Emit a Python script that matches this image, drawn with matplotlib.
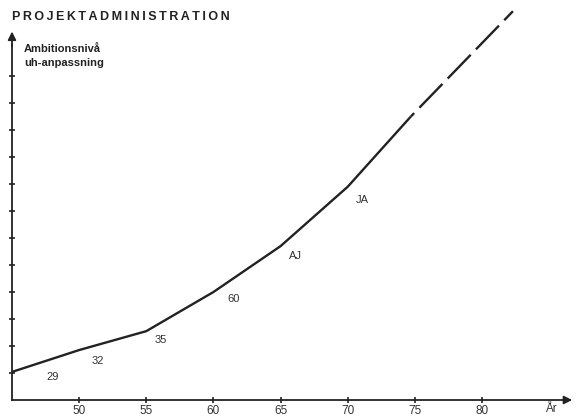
import matplotlib
matplotlib.use("Agg")
import matplotlib.pyplot as plt

plt.rcParams["font.family"] = ["Liberation Sans", "DejaVu Sans"]

# solid part of the curve (year, ambition level)
years_solid = [45, 50, 55, 60, 65, 70, 74.7]
level_solid = [1.04, 1.85, 2.55, 4.0, 5.7, 7.9, 10.5]

# dashed extrapolation
years_dash = [74.7, 82.3]
level_dash = [10.5, 14.4]

# labels along the curve
label_text = ["29", "32", "35", "60", "AJ", "JA"]
label_x = [48.0, 51.4, 56.1, 61.5, 66.1, 71.1]
label_y = [0.85, 1.44, 2.22, 3.74, 5.33, 7.4]

xticks = [50, 55, 60, 65, 70, 75, 80]
yticks = list(range(1, 13))

ink = "#222222"

fig = plt.figure(figsize=(5.76, 4.16), dpi=100)
ax = fig.add_axes([12 / 576, 16 / 416, 564 / 576, 400 / 416])
ax.set_xlim(45, 45 + 564 / 13.43)
ax.set_ylim(0, 400 / 27)

ax.plot(years_solid, level_solid, color=ink, lw=1.7, solid_capstyle="butt")
ax.plot(years_dash, level_dash, color=ink, lw=1.7, linestyle=(12, (14, 3.2)),
        dash_capstyle="butt")

for t, x, y in zip(label_text, label_x, label_y):
    ax.text(x, y, t, ha="center", va="center", fontsize=8, color="#333333")

# axes with arrows
for s in ["top", "right"]:
    ax.spines[s].set_visible(False)
ax.spines["left"].set_bounds(0, 13.2)
ax.spines["bottom"].set_bounds(45, 86.5)
for s in ["left", "bottom"]:
    ax.spines[s].set_linewidth(1.3)
    ax.spines[s].set_color(ink)
ax.annotate("", xy=(45, 13.75), xytext=(45, 13.0),
            arrowprops=dict(arrowstyle="-|>", color=ink, lw=1.3, mutation_scale=12))
ax.annotate("", xy=(45 + 563 / 13.43, 0), xytext=(86.0, 0),
            arrowprops=dict(arrowstyle="-|>", color=ink, lw=1.3, mutation_scale=12))

ax.set_xticks(xticks)
ax.set_xticklabels([str(v) for v in xticks])
ax.set_yticks(yticks)
ax.set_yticklabels([])
ax.tick_params(direction="inout", length=5, width=1.2, color=ink,
               labelsize=8.5, labelcolor="#333333", pad=1)

ax.text(85.1, -0.33, "År", ha="center", va="center", fontsize=8.5, color="#333333",
        clip_on=False)

title = "\u2009".join("PROJEKTADMINISTRATION")
fig.text(12 / 576, 1 - 17 / 416, title, ha="left", va="center",
         fontsize=9, fontweight="bold", color=ink)
fig.text(24 / 576, 1 - 56 / 416, "Ambitionsnivå\nuh-anpassning", ha="left",
         va="center", fontsize=8, fontweight="bold", color=ink, linespacing=1.6)

fig.savefig("out.png", dpi=100, facecolor="white")
